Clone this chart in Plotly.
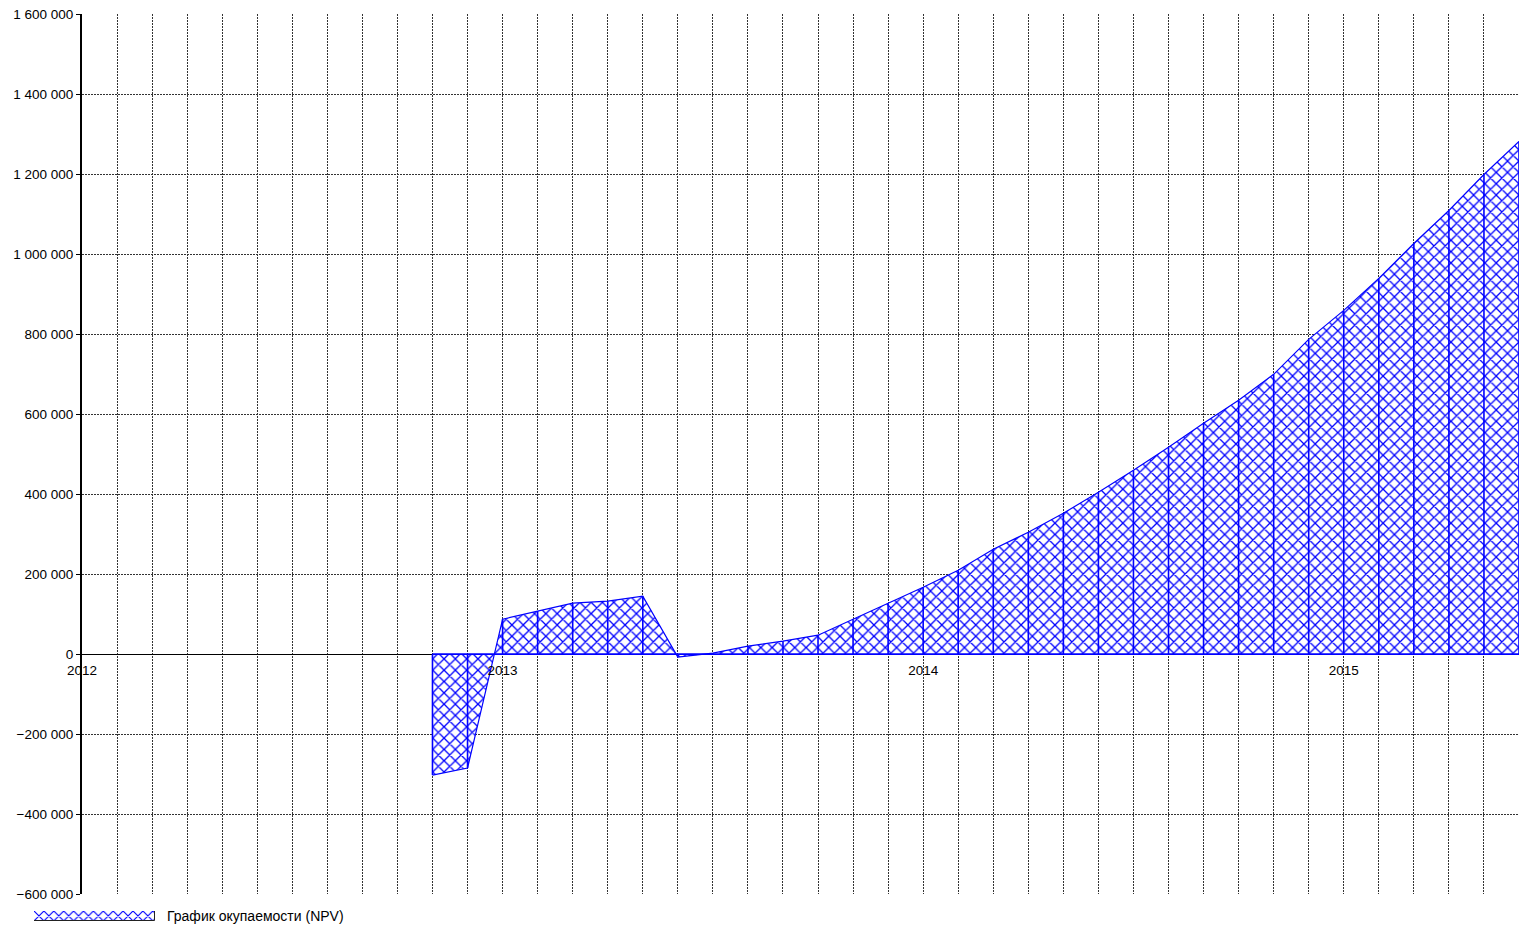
import plotly.graph_objects as go

# ---- data ----
periods = ["2012-11", "2012-12", "2013-01", "2013-02", "2013-03", "2013-04", "2013-05",
           "2013-06", "2013-07", "2013-08", "2013-09", "2013-10", "2013-11", "2013-12",
           "2014-01", "2014-02", "2014-03", "2014-04", "2014-05", "2014-06", "2014-07",
           "2014-08", "2014-09", "2014-10", "2014-11", "2014-12", "2015-01", "2015-02",
           "2015-03", "2015-04", "2015-05", "2015-06"]
npv = [-302500, -285000, 87500, 107500, 127500, 132500, 145000,
       -7500, 2500, 20000, 32500, 47500, 87500, 127500,
       167500, 210000, 262500, 305000, 352500, 405000, 460000,
       517500, 577500, 635000, 700000, 787500, 860000, 940000,
       1027500, 1110000, 1200000, 1282500]
year_labels = ["2012", "2013", "2014", "2015"]
series_name = "График окупаемости (NPV)"
start_year = 2012
end_period = "2015-06"


def month_idx(p):
    y, m = p.split("-")
    return (int(y) - start_year) * 12 + int(m) - 1


x = [month_idx(p) for p in periods]
x_end = month_idx(end_period)
y_min, y_max = -600000, 1600000
y_pad = 1500   # tiny headroom so the top tick/gridline is kept

BLUE = "#0000FF"
FONT = "Liberation Sans"
GRID = "#333333"
GRID_DASH = "2px,1px"

# layout geometry (page pixels; the page body adds an 8px offset)
OFF = 8
W, H = 1527 - OFF, 925 - OFF
page_left, page_top = 30, 14           # paper area in page pixels
page_right, page_bottom = 1519, 923
ml, mt = page_left - OFF, page_top - OFF
mr, mb = (W + OFF) - page_right, (H + OFF) - page_bottom
pw, ph = page_right - page_left, page_bottom - page_top
plot_left, plot_bottom = 82, 894


def px(xp):
    return (xp - page_left) / pw


def py(yp):
    return (page_bottom - yp) / ph


xd0 = px(plot_left)
yd0 = py(plot_bottom)
x_pos = yd0 + (0 - y_min) / (y_max + y_pad - y_min) * (1 - yd0)

fig = go.Figure()

fig.add_trace(go.Scatter(
    x=x, y=npv, mode="lines", fill="tozeroy",
    line=dict(color=BLUE, width=1.2),
    fillcolor="white",
    fillpattern=dict(shape="x", fgcolor=BLUE, bgcolor="white", size=8,
                     solidity=0.3, fgopacity=1),
    showlegend=False, hoverinfo="x+y",
))

# vertical segments at each period + baseline (area segment borders)
vx, vy = [], []
for xi, yi in zip(x, npv):
    vx += [xi, xi, None]
    vy += [0, yi, None]
vx += [x[0], x[-1]]
vy += [0, 0]
fig.add_trace(go.Scatter(x=vx, y=vy, mode="lines", line=dict(color=BLUE, width=1.6),
                         showlegend=False, hoverinfo="skip"))

# legend swatch
fig.add_trace(go.Bar(x=[0.5], y=[1], width=[1], xaxis="x2", yaxis="y2",
                     marker=dict(color="white", line=dict(color="#222222", width=1),
                                 pattern=dict(shape="x", fgcolor=BLUE, bgcolor="white",
                                              size=7, solidity=0.3, fgopacity=1)),
                     showlegend=False, hoverinfo="skip"))

# invisible trace to activate the grid axis
fig.add_trace(go.Scatter(x=[0], y=[0], xaxis="x3", yaxis="y", mode="markers",
                         marker=dict(opacity=0), showlegend=False, hoverinfo="skip"))

sw_x0, sw_x1, sw_y0, sw_y1 = 34, 155, 911, 921
fig.update_layout(
    width=W, height=H,
    margin=dict(l=ml, r=mr, t=mt, b=mb, autoexpand=False),
    paper_bgcolor="white", plot_bgcolor="white",
    separators=", ",
    font=dict(family=FONT, size=13.5, color="black"),
    showlegend=False,
    xaxis=dict(
        domain=[xd0, 1], range=[0, x_end], anchor="free", position=x_pos,
        tickmode="array", tickvals=[i * 12 for i in range(len(year_labels))],
        ticktext=year_labels, showgrid=False, showline=False, zeroline=False,
        ticks="outside", ticklen=4, tickcolor="rgba(0,0,0,0)",
        layer="above traces", automargin=False, ticklabeloverflow="allow",
    ),
    xaxis3=dict(
        domain=[xd0, 1], range=[0, x_end], anchor="y", overlaying="x",
        dtick=1, tick0=0, showgrid=True, griddash=GRID_DASH, gridcolor=GRID, gridwidth=1,
        showticklabels=False, showline=False, zeroline=False, layer="below traces",
        automargin=False,
    ),
    yaxis=dict(
        domain=[yd0, 1], range=[y_min, y_max + y_pad], anchor="x3",
        tickmode="linear", tick0=y_min, dtick=200000, tickformat=",d",
        showgrid=True, griddash=GRID_DASH,
        gridcolor=GRID, gridwidth=1, zeroline=True, zerolinecolor="black",
        zerolinewidth=1.2, showline=True, linecolor="black", linewidth=2,
        ticks="outside", ticklen=4, tickcolor="black", layer="below traces",
        automargin=False, ticklabeloverflow="allow",
    ),
    xaxis2=dict(domain=[px(sw_x0), px(sw_x1)], range=[0, 1],
                anchor="y2", visible=False, fixedrange=True, automargin=False),
    yaxis2=dict(domain=[py(sw_y1), py(sw_y0)], range=[0, 1],
                anchor="x2", visible=False, fixedrange=True, automargin=False),
    bargap=0,
    annotations=[dict(text=series_name, xref="paper", yref="paper",
                      x=px(165), y=py(916), xanchor="left",
                      yanchor="middle", showarrow=False,
                      font=dict(family=FONT, size=14, color="black"))],
)

fig.write_html("out.html")
